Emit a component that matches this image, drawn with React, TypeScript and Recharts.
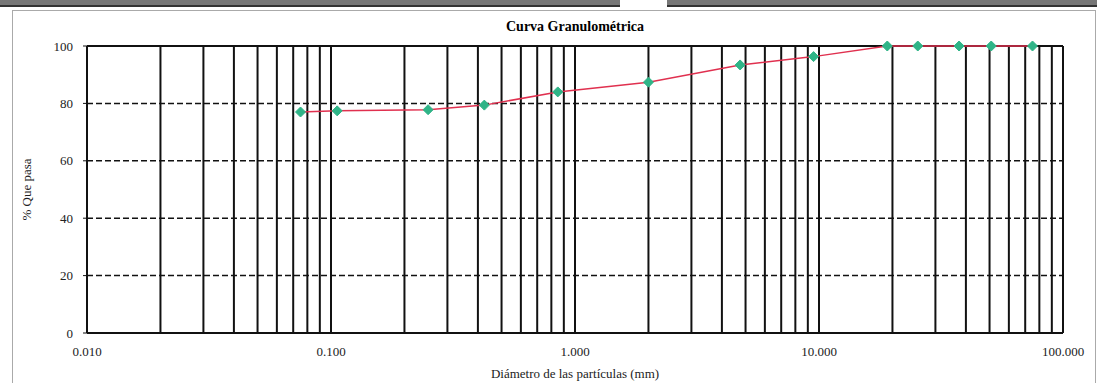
import React from "react";
import {
  LineChart,
  Line,
  XAxis,
  YAxis,
  ReferenceLine,
  Label,
} from "recharts";

// abertura de tamices (mm) y % que pasa
const sieveSizes = [0.075, 0.106, 0.25, 0.425, 0.85, 2.0, 4.75, 9.5, 19.05, 25.4, 37.5, 50.8, 75];
const percentPassing = [77, 77.4, 77.8, 79.4, 84, 87.4, 93.4, 96.3, 100, 100, 100, 100, 100];

const xTicks = [0.01, 0.1, 1, 10, 100];
const yTicks = [0, 20, 40, 60, 80, 100];
const dashedLevels = [20, 40, 60, 80];
const minorMultipliers = [2, 3, 4, 5, 6, 7, 8, 9];
const decades = [0.01, 0.1, 1, 10];

const data = sieveSizes.map((d, i) => ({ d, p: percentPassing[i] }));
const verticalLines = [
  ...decades.flatMap((dec) => minorMultipliers.map((m) => +(dec * m).toPrecision(3))),
  0.1,
  1,
  10,
  100,
];

const serif = "'Liberation Serif', 'DejaVu Serif', serif";

function Diamond(props: any) {
  const { cx, cy } = props;
  if (cx == null || cy == null) return null;
  const r = 5;
  return (
    <path
      d={`M${cx},${cy - r} L${cx + r},${cy} L${cx},${cy + r} L${cx - r},${cy} Z`}
      fill="#2fb487"
      stroke="#2fb487"
    />
  );
}

export default function App() {
  return (
    <div style={{ position: "absolute", left: 0, top: 0, width: 1097, height: 383, background: "#fff", overflow: "hidden" }}>
      {/* restos de la tabla de arriba */}
      <div style={{ position: "absolute", left: 0, top: 0, width: 620, height: 5, borderBottom: "2px solid #333", background: "#777" }} />
      <div style={{ position: "absolute", left: 667, top: 0, width: 430, height: 5, borderBottom: "2px solid #333", background: "#777" }} />
      {/* marco */}
      <div style={{ position: "absolute", left: 12, top: 10, width: 1082, height: 380, border: "1px solid #aaa" }} />
      <div
        style={{
          position: "absolute",
          left: 0,
          top: 19,
          width: 1150,
          textAlign: "center",
          fontFamily: serif,
          fontWeight: "bold",
          fontSize: 14,
        }}
      >
        Curva Granulométrica
      </div>
      <div style={{ position: "absolute", left: 0, top: 0 }}>
        <LineChart
          width={1097}
          height={383}
          data={data}
          margin={{ top: 46, right: 34, bottom: 18, left: 17 }}
        >
          <XAxis
            dataKey="d"
            type="number"
            scale="log"
            domain={[0.01, 100]}
            ticks={xTicks}
            allowDataOverflow
            tickFormatter={(v: number) => v.toFixed(3)}
            tick={{ fontFamily: serif, fontSize: 13, fill: "#222" }}
            axisLine={{ stroke: "#111", strokeWidth: 2 }}
            tickLine={false}
            tickMargin={8}
            height={32}
          >
            <Label
              value="Diámetro de las partículas (mm)"
              position="insideBottom"
              offset={-13}
              style={{ fontFamily: serif, fontSize: 13, fill: "#222" }}
            />
          </XAxis>
          <YAxis
            type="number"
            domain={[0, 100]}
            ticks={yTicks}
            tick={{ fontFamily: serif, fontSize: 13, fill: "#222" }}
            axisLine={{ stroke: "#111", strokeWidth: 2 }}
            tickLine={{ stroke: "#111" }}
            tickSize={4}
            tickMargin={10}
            width={70}
          >
            <Label
              value="% Que pasa"
              angle={-90}
              position="insideLeft"
              offset={9}
              style={{ fontFamily: serif, fontSize: 13, fill: "#222", textAnchor: "middle" }}
            />
          </YAxis>
          {verticalLines.map((v) => (
            <ReferenceLine key={"v" + v} x={v} stroke="#111" strokeWidth={2} ifOverflow="extendDomain" />
          ))}
          {dashedLevels.map((v) => (
            <ReferenceLine key={"h" + v} y={v} stroke="#111" strokeWidth={1.5} strokeDasharray="6 3" />
          ))}
          <ReferenceLine y={100} stroke="#111" strokeWidth={2} />
          <Line
            dataKey="p"
            type="linear"
            stroke="#e0304f"
            strokeWidth={1.5}
            dot={<Diamond />}
            isAnimationActive={false}
          />
        </LineChart>
      </div>
    </div>
  );
}
